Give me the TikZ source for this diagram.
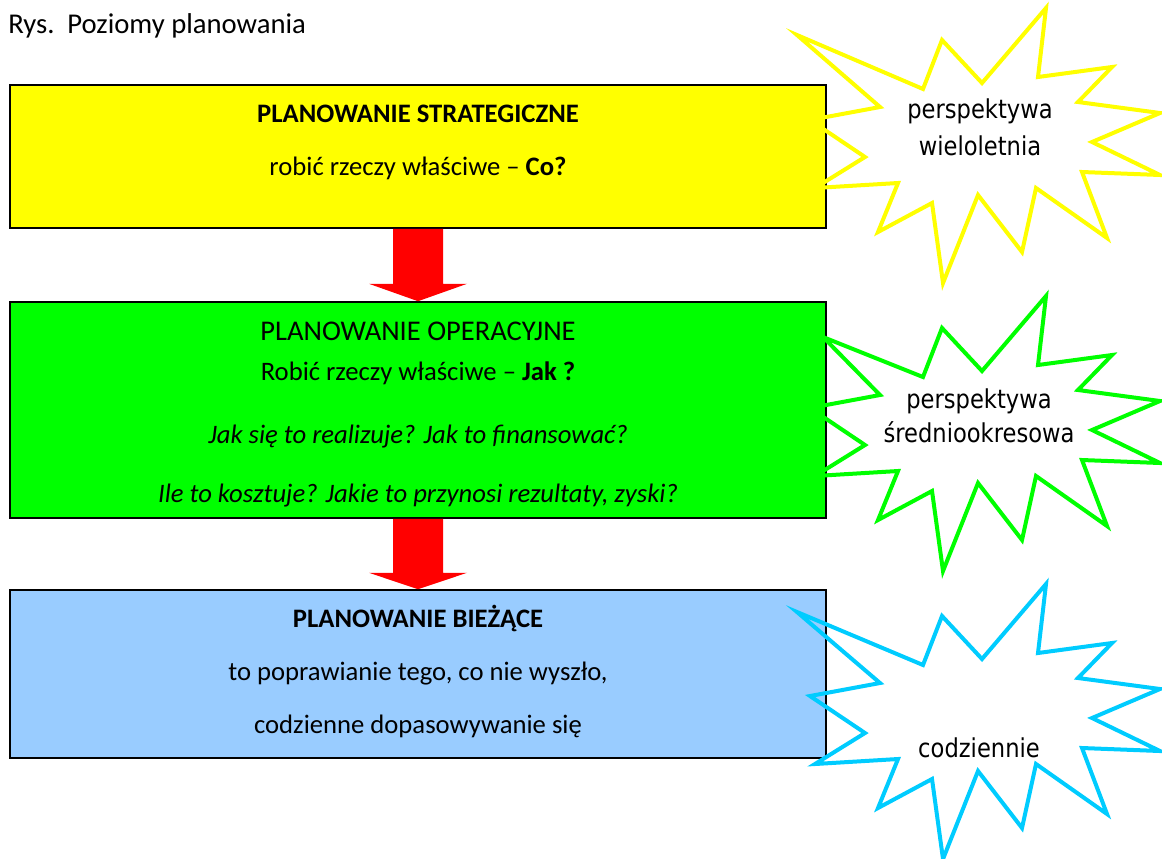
\documentclass[tikz,border=0pt]{standalone}
\usepackage{fontspec}
\setmainfont{Carlito}
\newfontfamily\gwfont[FakeStretch=0.87]{DejaVu Sans}
\usetikzlibrary{calc}
\definecolor{zolty}{HTML}{FFFF00}
\definecolor{zielony}{HTML}{00FF00}
\definecolor{niebieski}{HTML}{99CCFF}
\definecolor{blekit}{HTML}{00CCFF}
\definecolor{czerwony}{HTML}{FF0000}

% gwiazda: kolor, przesuniecie w dol, pierwszy wierzcholek
\newcommand\gwiazda[3]{%
  \draw[#1, line width=3pt, shift={(0,#2)}] #3 -- (923,89) -- (942,40) -- (982,83)
    -- (1046,8) -- (1038,77) -- (1112,67) -- (1078,102) -- (1160,113) -- (1092,142)
    -- (1160,175) -- (1082,172) -- (1107,238) -- (1036,188) -- (1022,252) -- (978,195)
    -- (943,283) -- (932,203) -- (878,232) -- (898,183) -- (815,188) -- (865,157)
    -- (810,120) -- (880,107) -- cycle;}

\begin{document}
\begin{tikzpicture}[x=0.75pt, y=-0.75pt,
    pole/.style={draw=black, line width=1.2pt, minimum width=612pt, inner sep=0pt},
    tekst/.style={anchor=base, inner sep=0pt, font=\fontsize{20}{24}\selectfont},
    gwtekst/.style={anchor=base, inner sep=0pt, font=\gwfont\fontsize{19.5}{23}\selectfont}]
    \useasboundingbox (0,0) rectangle (1162,858);

    \node[anchor=base west, inner sep=0pt, font=\fontsize{21.5}{26}\selectfont] (tytul) at (8,33) {Rys.\ \ Poziomy planowania};

    % poziomy
    \node[pole, fill=zolty, minimum height=107.25pt] (strateg) at (418,156.5) {};
    \node[pole, fill=zielony, minimum height=162pt] (operac) at (418,410) {};
    \node[pole, fill=niebieski, minimum height=126pt] (biezace) at (418,674) {};

    \node[tekst] (strateg1) at (418,122) {\bfseries PLANOWANIE STRATEGICZNE};
    \node[tekst] (strateg2) at (418,175) {robić rzeczy właściwe -- \textbf{Co?}};

    \node[tekst, font=\fontsize{21.4}{26}\selectfont] (operac1) at (418,340) {PLANOWANIE OPERACYJNE};
    \node[tekst] (operac2) at (418,380) {Robić rzeczy właściwe -- \textbf{Jak ?}};
    \node[tekst] (operac3) at (418,443) {\itshape Jak się to realizuje? Jak to finansować?};
    \node[tekst] (operac4) at (418,502) {\itshape Ile to kosztuje? Jakie to przynosi rezultaty, zyski?};

    \node[tekst] (biezace1) at (418,627) {\bfseries PLANOWANIE BIEŻĄCE};
    \node[tekst] (biezace2) at (418,680) {to poprawianie tego, co nie wyszło,};
    \node[tekst] (biezace3) at (418,733) {codzienne dopasowywanie się};

    % strzalki
    \fill[czerwony] ($(strateg.south)+(-25,0)$) -- ($(strateg.south)+(-25,55)$) -- ($(strateg.south)+(-49,55)$)
        -- (operac.north) -- ($(strateg.south)+(49,55)$) -- ($(strateg.south)+(25,55)$) -- ($(strateg.south)+(25,0)$) -- cycle;
    \fill[czerwony] ($(operac.south)+(-25,0)$) -- ($(operac.south)+(-25,54)$) -- ($(operac.south)+(-49,54)$)
        -- (biezace.north) -- ($(operac.south)+(49,54)$) -- ($(operac.south)+(25,54)$) -- ($(operac.south)+(25,0)$) -- cycle;

    % gwiazdy
    \gwiazda{zolty}{0}{(797,35)}
    \gwiazda{zielony}{288}{(823,49)}
    \gwiazda{blekit}{576}{(797,36)}

    \node[gwtekst] (wielo1) at (980,118) {perspektywa};
    \node[gwtekst] (wielo2) at (980,155) {wieloletnia};
    \node[gwtekst] (sredn1) at (979,408) {perspektywa};
    \node[gwtekst] (sredn2) at (979,442) {średniookresowa};
    \node[gwtekst] (codz) at (979,757) {codziennie};
\end{tikzpicture}
\end{document}
